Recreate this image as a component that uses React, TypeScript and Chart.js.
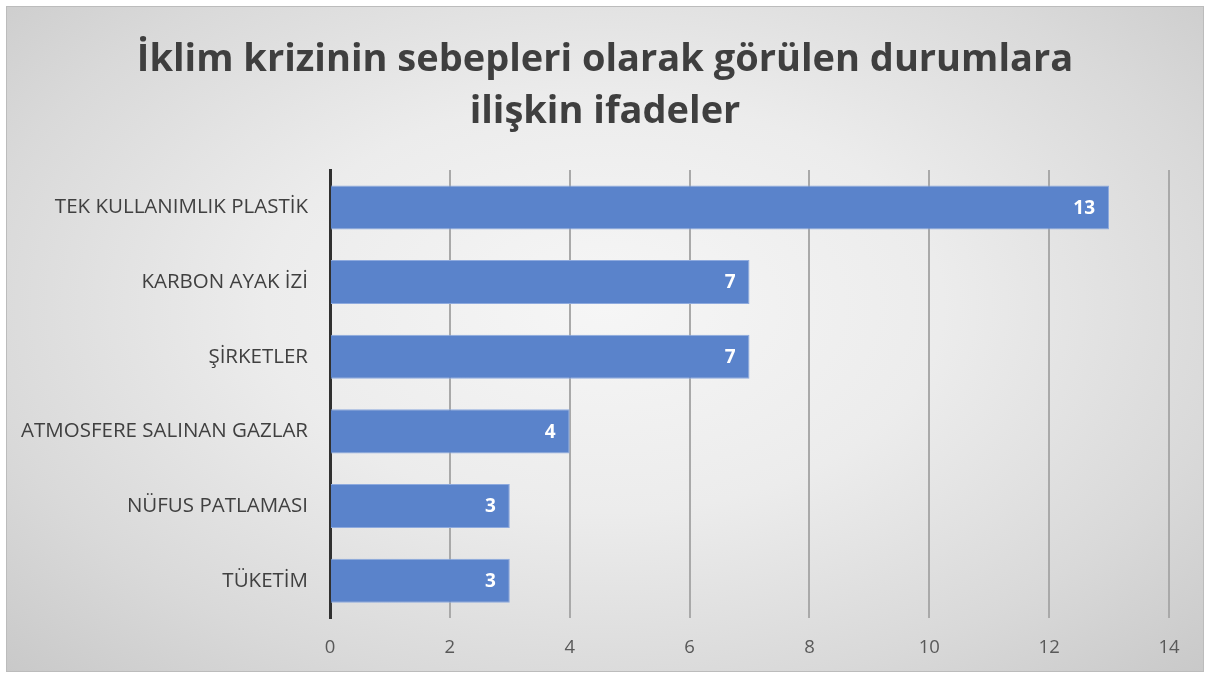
import React, { useEffect, useRef } from "react";
import { Chart, registerables } from "chart.js";

Chart.register(...registerables);

const titleLines = ["İklim krizinin sebepleri olarak görülen durumlara", "ilişkin ifadeler"];
const categories = [
  "TEK KULLANIMLIK PLASTİK",
  "KARBON AYAK İZİ",
  "ŞİRKETLER",
  "ATMOSFERE SALINAN GAZLAR",
  "NÜFUS PATLAMASI",
  "TÜKETİM",
];
const values = [13, 7, 7, 4, 3, 3];
const xTicks = [0, 2, 4, 6, 8, 10, 12, 14];

const FONT = "'Open Sans', 'DejaVu Sans', sans-serif";

const dataLabelPlugin = {
  id: "dataLabels",
  afterDatasetsDraw(chart: any) {
    const ctx = chart.ctx;
    const meta = chart.getDatasetMeta(0);
    ctx.save();
    ctx.fillStyle = "#ffffff";
    ctx.font = `bold 19px ${FONT}`;
    ctx.textAlign = "right";
    ctx.textBaseline = "middle";
    meta.data.forEach((bar: any, i: number) => {
      ctx.fillText(String(values[i]), bar.x - 14, bar.y + 1);
    });
    ctx.restore();
  },
};

export default function App() {
  const ref = useRef<HTMLCanvasElement>(null);
  useEffect(() => {
    if (!ref.current) return;
    const chart = new Chart(ref.current, {
      type: "bar",
      data: {
        labels: categories,
        datasets: [
          {
            data: values,
            backgroundColor: "#5a83cb",
            borderColor: "#8eaade",
            borderWidth: 1,
            barPercentage: 0.59,
            categoryPercentage: 1,
          },
        ],
      },
      options: {
        indexAxis: "y",
        responsive: false,
        animation: false,
        devicePixelRatio: 1,
        layout: { padding: 0 },
        plugins: {
          legend: { display: false },
          tooltip: { enabled: false },
          title: {
            display: true,
            text: titleLines,
            color: "#3f3f3f",
            font: { family: FONT, size: 38, weight: "bold", lineHeight: 1.37 },
            padding: { top: 27, bottom: 32 },
          },
        },
        scales: {
          x: {
            min: 0,
            max: 14,
            afterBuildTicks: (scale: any) => {
              scale.ticks = xTicks.map((v) => ({ value: v }));
            },
            afterFit: (scale: any) => {
              scale.height = 53;
              scale.paddingRight = 34;
            },
            border: { display: false },
            grid: {
              drawTicks: false,
              lineWidth: 2,
              color: (c: any) => (c.index === 0 ? "rgba(0,0,0,0)" : "#a9a9a9"),
            },
            ticks: {
              padding: 19,
              color: "#595959",
              font: { family: FONT, size: 18.5 },
            },
          },
          y: {
            z: 1,
            afterFit: (scale: any) => {
              scale.width = 323;
            },
            border: { display: true, color: "#303030", width: 3 },
            grid: { display: false, drawTicks: false },
            ticks: {
              padding: 22,
              color: "#404040",
              font: { family: FONT, size: 20.5 },
            },
          },
        },
      },
      plugins: [dataLabelPlugin],
    } as any);
    return () => chart.destroy();
  }, []);
  return (
    <div
      style={{
        position: "fixed",
        left: 6,
        top: 6,
        width: 1196,
        height: 664,
        border: "1px solid #bcbcbc",
        background:
          "radial-gradient(ellipse at 50% 45%, #f6f6f6 0%, #ececec 40%, #d9d9d9 75%, #c9c9c9 100%)",
      }}
    >
      <canvas ref={ref} width={1196} height={664} style={{ display: "block" }} />
    </div>
  );
}
